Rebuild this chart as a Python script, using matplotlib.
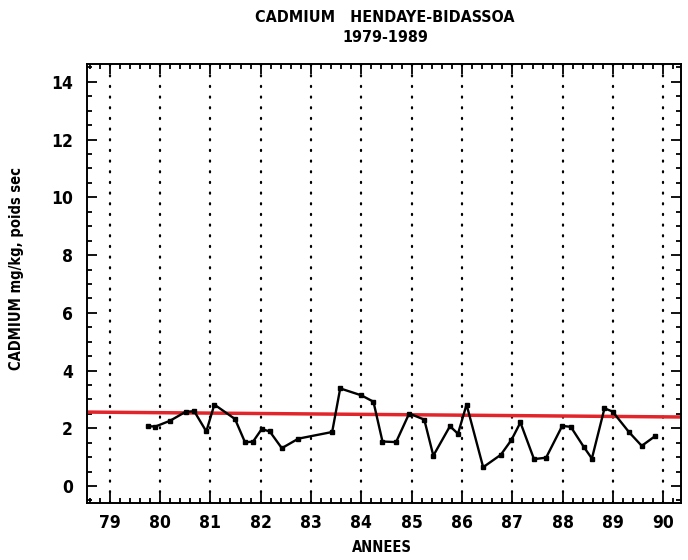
import matplotlib
matplotlib.use("Agg")
import matplotlib.pyplot as plt
from matplotlib.ticker import MultipleLocator

# ---- data ----
years = [79.76, 79.91, 80.20, 80.51, 80.68, 80.92, 81.08, 81.49, 81.69, 81.85,
         82.02, 82.18, 82.42, 82.75, 83.42, 83.58, 84.00, 84.24, 84.42, 84.69,
         84.95, 85.25, 85.43, 85.76, 85.92, 86.09, 86.42, 86.77, 86.98, 87.16,
         87.43, 87.67, 87.99, 88.16, 88.42, 88.58, 88.83, 88.99, 89.32, 89.57,
         89.83]
cadmium = [2.07, 2.06, 2.26, 2.57, 2.59, 1.89, 2.82, 2.32, 1.51, 1.54,
           1.97, 1.89, 1.31, 1.64, 1.87, 3.38, 3.14, 2.92, 1.54, 1.52,
           2.51, 2.30, 1.05, 2.07, 1.81, 2.82, 0.65, 1.08, 1.59, 2.20,
           0.93, 0.98, 2.08, 2.05, 1.35, 0.95, 2.69, 2.58, 1.86, 1.39,
           1.72]
trend_x = [78.55, 90.35]
trend_y = [2.56, 2.39]
year_ticks = list(range(79, 91))
year_labels = [str(y) for y in year_ticks]
y_ticks = [0, 2, 4, 6, 8, 10, 12, 14]

plt.rcParams['font.family'] = ['DejaVu Sans']
plt.rcParams['font.weight'] = 'bold'
plt.rcParams['font.stretch'] = 'condensed'

fig = plt.figure(figsize=(6.88, 5.6), dpi=100)
ax = fig.add_axes([87/688, 1-503/560, (681-87)/688, (503-64)/560])

ax.set_xlim(78.55, 90.35)
ax.set_ylim(-0.59, 14.62)

for yr in year_ticks:
    ax.axvline(yr, color='black', lw=1.6, linestyle=(0, (0.5, 4.3)),
               dash_capstyle='round', zorder=1)

ax.plot(trend_x, trend_y, color='#e2252b', lw=2.5, zorder=2, solid_capstyle='butt')
ax.plot(years, cadmium, color='black', lw=1.7, marker='s', markersize=2.8, zorder=3)

ax.set_xticks(year_ticks)
ax.set_xticklabels(year_labels)
ax.set_yticks(y_ticks)
ax.xaxis.set_minor_locator(MultipleLocator(0.2))
ax.yaxis.set_minor_locator(MultipleLocator(0.5))
ax.tick_params(which='both', direction='in', top=True, right=True, width=1.3)
ax.tick_params(which='major', length=7)
ax.tick_params(which='minor', length=3.5)
ax.tick_params(axis='x', which='major', labelsize=12.5, pad=8)
ax.tick_params(axis='y', which='major', labelsize=12.5, pad=10)
for s in ax.spines.values():
    s.set_linewidth(1.4)

fig.text(385/688, 1-18/560, 'CADMIUM   HENDAYE-BIDASSOA', ha='center', va='center',
         fontsize=11.5, fontweight='bold')
fig.text(385/688, 1-38/560, '1979-1989', ha='center', va='center',
         fontsize=11.5, fontweight='bold')
fig.text(382/688, 1-548/560, 'ANNEES', ha='center', va='center',
         fontsize=10.5, fontweight='bold')
fig.text(17/688, 1-268/560, 'CADMIUM mg/kg, poids sec', ha='center', va='center',
         rotation=90, fontsize=10.5, fontweight='bold')

fig.savefig('out.png', dpi=100)
